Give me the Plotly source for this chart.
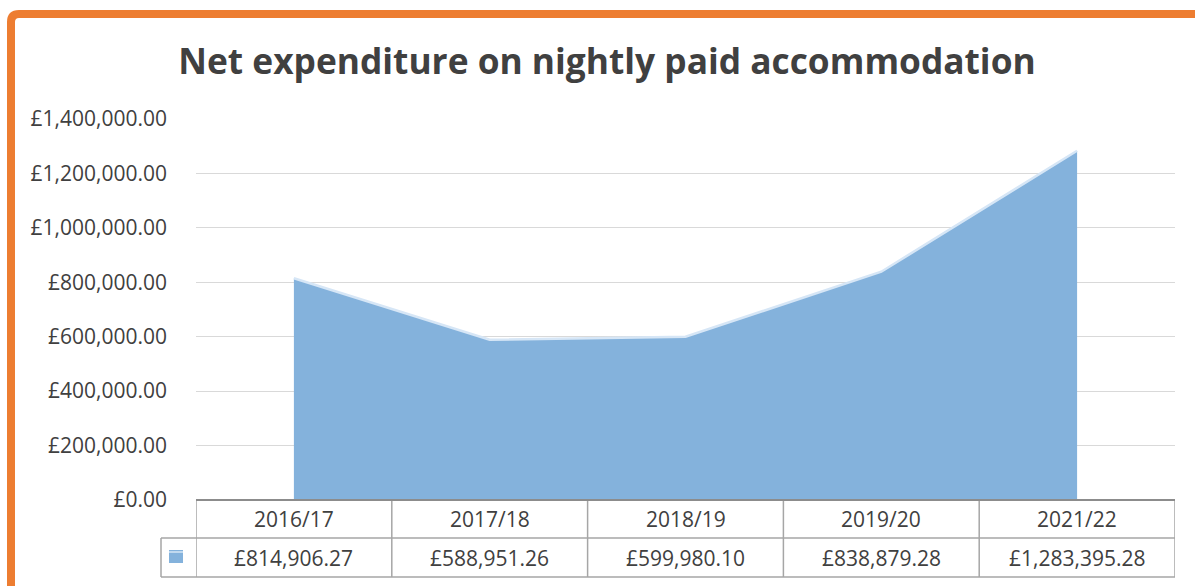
import plotly.graph_objects as go

categories = ["2016/17", "2017/18", "2018/19", "2019/20", "2021/22"]
values = [814906.27, 588951.26, 599980.10, 838879.28, 1283395.28]
value_labels = ["£814,906.27", "£588,951.26", "£599,980.10", "£838,879.28", "£1,283,395.28"]
title_text = "Net expenditure on nightly paid accommodation"

W, H = 1195, 586
L, R, T, B = 196, 20, 119, 86
PW = W - L - R
PH = H - T - B


def py(pix):
    return (H - B - pix) / PH


def px(pix):
    return (pix - L) / PW


FONT = "Open Sans"
TXT = "#404040"
GRID = "#d9d9d9"
TBL = "#a6a6a6"

fig = go.Figure()
fig.add_trace(go.Scatter(
    x=categories, y=values, mode="lines", fill="tozeroy",
    fillcolor="#84b2dc", line=dict(color="#d6e6f6", width=2.5),
    hoverinfo="skip", showlegend=False,
))

shapes = []
annotations = []
# table borders
y_top, y_mid, y_bot = py(500), py(538), py(577)
for i in range(len(categories) + 1):
    shapes.append(dict(type="line", xref="x", yref="paper", x0=i - 0.5, x1=i - 0.5,
                       y0=y_top, y1=y_bot, line=dict(color=TBL, width=1.5)))
shapes.append(dict(type="line", xref="paper", yref="paper", x0=px(161), x1=1,
                   y0=y_mid, y1=y_mid, line=dict(color=TBL, width=1.5)))
shapes.append(dict(type="line", xref="paper", yref="paper", x0=px(161), x1=1,
                   y0=y_bot, y1=y_bot, line=dict(color=TBL, width=1.5)))
shapes.append(dict(type="line", xref="paper", yref="paper", x0=px(161), x1=px(161),
                   y0=y_mid, y1=y_bot, line=dict(color=TBL, width=1.5)))
shapes.append(dict(type="line", xref="paper", yref="paper", x0=0, x1=1,
                   y0=y_top, y1=y_top, line=dict(color="#8c8c8c", width=2)))
# legend key
shapes.append(dict(type="rect", xref="paper", yref="paper", x0=px(169), x1=px(183),
                   y0=py(563), y1=py(550), line=dict(width=0), fillcolor="#84b2dc"))
shapes.append(dict(type="line", xref="paper", yref="paper", x0=px(169), x1=px(183),
                   y0=py(552), y1=py(552), line=dict(color="#d6e6f6", width=1.5)))
# orange border
shapes.append(dict(type="path", xref="paper", yref="paper",
                   path=(f"M {px(11)} {py(700)} L {px(11)} {py(22)} "
                         f"Q {px(11)} {py(14)} {px(19)} {py(14)} L {px(1300)} {py(14)}"),
                   line=dict(color="#ed7d31", width=8)))

for i, (c, v) in enumerate(zip(categories, value_labels)):
    annotations.append(dict(x=c, xref="x", y=py(519), yref="paper", text=c,
                            showarrow=False, font=dict(family=FONT, size=21, color=TXT),
                            xanchor="center", yanchor="middle"))
    annotations.append(dict(x=c, xref="x", y=py(557.5), yref="paper", text=v,
                            showarrow=False, font=dict(family=FONT, size=21, color=TXT),
                            xanchor="center", yanchor="middle"))

fig.update_layout(
    width=W, height=H,
    margin=dict(l=L, r=R, t=T, b=B, autoexpand=False),
    paper_bgcolor="white", plot_bgcolor="white",
    title=dict(text=f"<b>{title_text}</b>", x=607 / W, xref="container", xanchor="center",
               y=1 - 62 / H, yref="container", yanchor="middle",
               font=dict(family=FONT, size=35.3, color=TXT)),
    xaxis=dict(type="category", range=[-0.5, 4.5], showticklabels=False, showgrid=False,
               zeroline=False, showline=False, fixedrange=True),
    yaxis=dict(range=[0, 1400000], dtick=200000, tick0=0, tickprefix="£", tickformat=",.2f",
               showgrid=True, gridcolor=GRID, gridwidth=1, zeroline=False, showline=False,
               ticklabelstandoff=28,
               tickfont=dict(family=FONT, size=21, color=TXT), fixedrange=True),
    shapes=shapes, annotations=annotations,
    showlegend=False,
)

fig.write_html("out.html", config={"displayModeBar": False},
               post_script="document.body.style.margin='0';document.body.style.padding='0';")
